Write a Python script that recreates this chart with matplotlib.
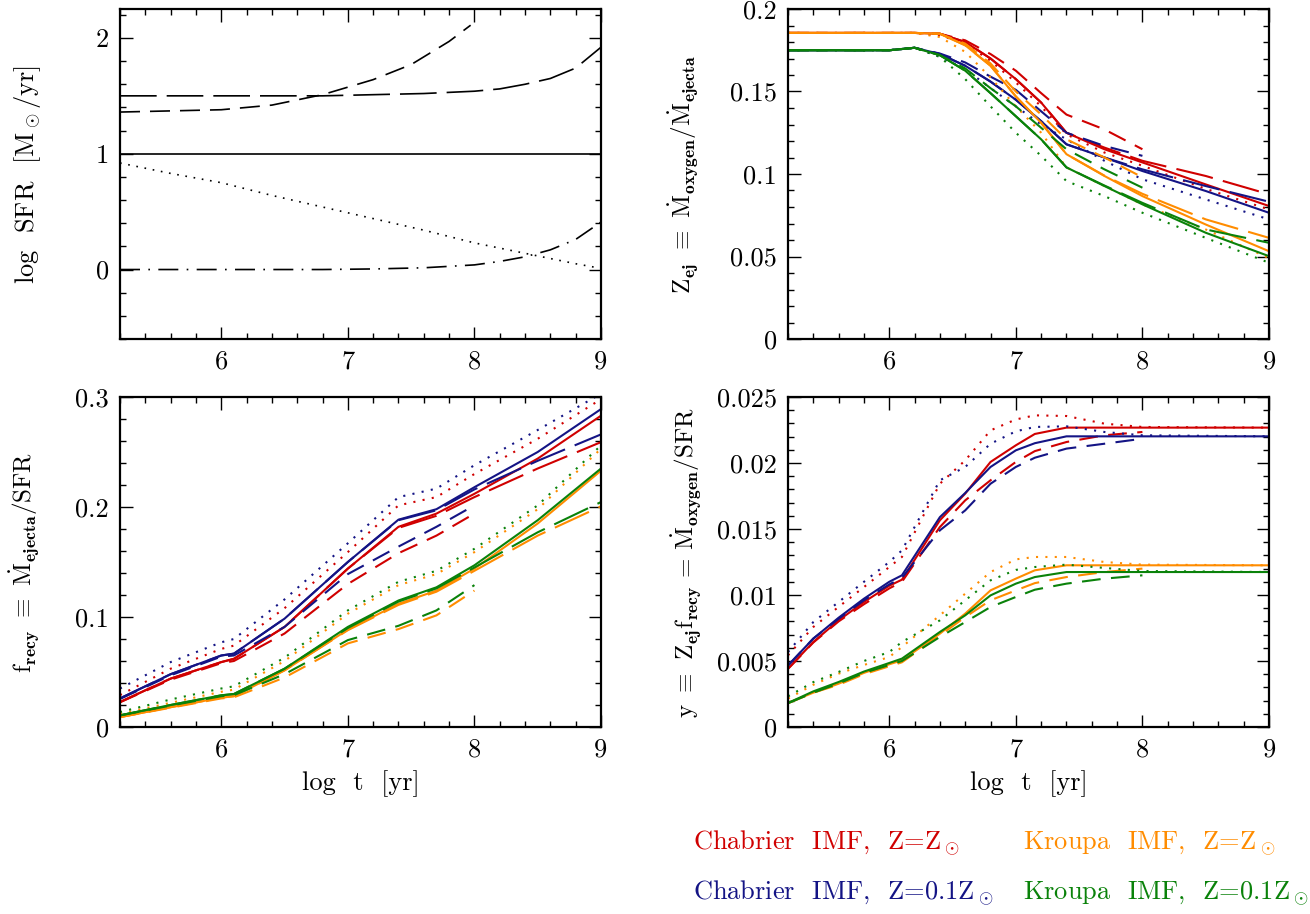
import matplotlib
matplotlib.use('Agg')
import matplotlib.pyplot as plt
from matplotlib.ticker import MultipleLocator, FuncFormatter

plt.rcParams['font.family'] = 'cmr10'
plt.rcParams['mathtext.fontset'] = 'cm'
plt.rcParams['axes.formatter.use_mathtext'] = True

RED = '#d00000'
ORANGE = '#ff8c00'
BLUE = '#141485'
GREEN = '#0a820a'

# ---- top left: star formation histories ----
t_sfr = [5.2, 5.6, 6.0, 6.4, 6.8, 7.2, 7.6, 8.0, 8.2, 8.4, 8.6, 8.8, 9.0]
sfr_const = [1.0] * 13
sfr_decl = [0.92, 0.83, 0.75, 0.64, 0.54, 0.44, 0.34, 0.23, 0.185, 0.14, 0.095, 0.05, 0.01]
sfr_long = [1.50, 1.50, 1.50, 1.50, 1.50, 1.51, 1.52, 1.54, 1.56, 1.60, 1.65, 1.74, 1.92]
sfr_dotdash = [0.0, 0.0, 0.0, 0.0, 0.0, 0.005, 0.015, 0.04, 0.07, 0.11, 0.17, 0.26, 0.41]
t_burst = [5.2, 5.6, 6.0, 6.4, 6.8, 7.2, 7.5, 7.8, 7.97]
sfr_burst = [1.36, 1.37, 1.38, 1.42, 1.51, 1.64, 1.77, 1.97, 2.11]

# ---- top right: Z_ej ----
t_zej = [5.2, 6.0, 6.2, 6.4, 6.6, 6.8, 7.0, 7.2, 7.4, 7.7, 8.0, 8.5, 9.0]
zej = {
    'chab_sol': {
        'solid': [0.1855, 0.1855, 0.1855, 0.185, 0.180, 0.170, 0.1575, 0.1433, 0.125, 0.115, 0.107, 0.0937, 0.0806],
        'dot': [0.1855, 0.1855, 0.1855, 0.184, 0.179, 0.1686, 0.1555, 0.141, 0.124, 0.113, 0.105, 0.091, 0.0785],
        'short': [0.1855, 0.1855, 0.1855, 0.185, 0.181, 0.1727, 0.1626, 0.149, 0.136, 0.127, 0.115],
        'long': [0.1855, 0.1855, 0.1855, 0.185, 0.180, 0.170, 0.1575, 0.1433, 0.125, 0.116, 0.108, 0.0988, 0.0877],
    },
    'chab_low': {
        'solid': [0.175, 0.175, 0.1765, 0.1727, 0.1656, 0.156, 0.145, 0.132, 0.118, 0.110, 0.1018, 0.0897, 0.0765],
        'dot': [0.175, 0.175, 0.1765, 0.171, 0.1636, 0.152, 0.141, 0.130, 0.121, 0.108, 0.0968, 0.0846, 0.0725],
        'short': [0.175, 0.175, 0.1765, 0.173, 0.1676, 0.159, 0.151, 0.138, 0.125, 0.117, 0.111],
        'long': [0.175, 0.175, 0.1765, 0.1727, 0.1656, 0.156, 0.145, 0.132, 0.118, 0.110, 0.1028, 0.0927, 0.0832],
    },
    'krou_sol': {
        'solid': [0.1855, 0.1855, 0.1855, 0.185, 0.178, 0.1656, 0.147, 0.131, 0.112, 0.0988, 0.0866, 0.0694, 0.0532],
        'dot': [0.1855, 0.1855, 0.1855, 0.183, 0.174, 0.1585, 0.141, 0.125, 0.104, 0.0927, 0.0816, 0.0664, 0.049],
        'short': [0.1855, 0.1855, 0.1855, 0.185, 0.179, 0.167, 0.150, 0.136, 0.121, 0.110, 0.098],
        'long': [0.1855, 0.1855, 0.1855, 0.185, 0.178, 0.1656, 0.147, 0.131, 0.112, 0.099, 0.088, 0.0725, 0.0613],
    },
    'krou_low': {
        'solid': [0.175, 0.175, 0.1765, 0.172, 0.1626, 0.149, 0.135, 0.121, 0.104, 0.0927, 0.0816, 0.0644, 0.0502],
        'dot': [0.175, 0.175, 0.1765, 0.171, 0.1575, 0.141, 0.125, 0.111, 0.0957, 0.0866, 0.0765, 0.0613, 0.0462],
        'short': [0.175, 0.175, 0.1765, 0.172, 0.164, 0.152, 0.141, 0.128, 0.115, 0.1028, 0.0917],
        'long': [0.175, 0.175, 0.1765, 0.172, 0.1626, 0.149, 0.135, 0.121, 0.104, 0.093, 0.0825, 0.0664, 0.0583],
    },
}

# ---- bottom left: f_recy ----
t_f = [5.2, 5.6, 6.0, 6.1, 6.5, 7.0, 7.4, 7.7, 8.0, 8.5, 9.0]
frecy = {
    'chab_sol': {
        'solid': [0.0227, 0.044, 0.059, 0.062, 0.091, 0.144, 0.182, 0.194, 0.212, 0.244, 0.283],
        'dot': [0.029, 0.053, 0.071, 0.074, 0.108, 0.159, 0.2015, 0.209, 0.230, 0.262, 0.298],
        'short': [0.0225, 0.043, 0.058, 0.060, 0.085, 0.130, 0.158, 0.174, 0.194],
        'long': [0.0227, 0.044, 0.059, 0.062, 0.091, 0.144, 0.181, 0.192, 0.209, 0.235, 0.259],
    },
    'chab_low': {
        'solid': [0.026, 0.048, 0.065, 0.0667, 0.0985, 0.150, 0.1885, 0.198, 0.218, 0.250, 0.289],
        'dot': [0.035, 0.059, 0.077, 0.080, 0.116, 0.167, 0.209, 0.2167, 0.238, 0.270, 0.303],
        'short': [0.0255, 0.047, 0.064, 0.065, 0.091, 0.139, 0.164, 0.182, 0.2015],
        'long': [0.026, 0.048, 0.065, 0.0667, 0.0985, 0.150, 0.188, 0.197, 0.216, 0.242, 0.266],
    },
    'krou_sol': {
        'solid': [0.009, 0.018, 0.0267, 0.028, 0.0515, 0.0885, 0.112, 0.124, 0.144, 0.185, 0.233],
        'dot': [0.012, 0.022, 0.032, 0.034, 0.060, 0.103, 0.129, 0.139, 0.159, 0.198, 0.253],
        'short': [0.009, 0.0175, 0.026, 0.027, 0.045, 0.076, 0.089, 0.1015, 0.124],
        'long': [0.009, 0.018, 0.0267, 0.028, 0.0515, 0.088, 0.111, 0.123, 0.142, 0.174, 0.2006],
    },
    'krou_low': {
        'solid': [0.0106, 0.020, 0.0288, 0.030, 0.053, 0.091, 0.115, 0.127, 0.147, 0.188, 0.235],
        'dot': [0.0136, 0.025, 0.035, 0.037, 0.063, 0.106, 0.132, 0.142, 0.162, 0.2015, 0.256],
        'short': [0.0105, 0.0195, 0.028, 0.029, 0.048, 0.079, 0.092, 0.106, 0.129],
        'long': [0.0106, 0.020, 0.0288, 0.030, 0.053, 0.090, 0.114, 0.126, 0.145, 0.177, 0.2045],
    },
}

# ---- bottom right: yield ----
t_y = [5.2, 5.4, 5.6, 5.8, 6.0, 6.1, 6.4, 6.6, 6.8, 7.0, 7.15, 7.4, 7.7, 8.0, 9.0]
yld = {
    'chab_sol': {
        'solid': [0.00442, 0.00644, 0.00808, 0.00947, 0.0107, 0.01116, 0.01566, 0.01768, 0.02008, 0.02134, 0.0222, 0.02268, 0.02268, 0.02268, 0.02268],
        'dot': [0.00543, 0.00758, 0.0091, 0.0106, 0.01212, 0.01288, 0.01843, 0.0202, 0.02247, 0.0233, 0.02361, 0.02356, 0.02298, 0.02273, 0.02268],
        'short': [0.0044, 0.0064, 0.0080, 0.0093, 0.0105, 0.0110, 0.01515, 0.01717, 0.01869, 0.02008, 0.0209, 0.02159, 0.0221, 0.02235],
    },
    'chab_low': {
        'solid': [0.00467, 0.0067, 0.00828, 0.00972, 0.011, 0.01149, 0.0159, 0.01773, 0.0197, 0.02096, 0.0215, 0.02202, 0.02202, 0.02202, 0.02202],
        'dot': [0.00568, 0.00795, 0.00947, 0.011, 0.0125, 0.01338, 0.01869, 0.0197, 0.02146, 0.0224, 0.02273, 0.02278, 0.02235, 0.0221, 0.02202],
        'short': [0.00465, 0.0067, 0.0082, 0.0096, 0.0108, 0.0113, 0.0149, 0.01641, 0.01843, 0.0197, 0.0204, 0.02109, 0.02146, 0.02184],
    },
    'krou_sol': {
        'solid': [0.00182, 0.0026, 0.00328, 0.0041, 0.00475, 0.00505, 0.00707, 0.00859, 0.01035, 0.01124, 0.01187, 0.01225, 0.01225, 0.01225, 0.01225],
        'dot': [0.00215, 0.0032, 0.00404, 0.0047, 0.0053, 0.00606, 0.00846, 0.0101, 0.01174, 0.0127, 0.01288, 0.01288, 0.0125, 0.0123, 0.01225],
        'short': [0.0018, 0.0026, 0.0032, 0.0040, 0.0046, 0.0049, 0.00694, 0.00833, 0.0096, 0.01035, 0.0109, 0.01136, 0.01174, 0.0120],
    },
    'krou_low': {
        'solid': [0.00182, 0.0027, 0.00341, 0.0042, 0.00485, 0.00518, 0.0072, 0.00846, 0.00997, 0.01086, 0.01136, 0.01174, 0.01174, 0.01174, 0.01174],
        'dot': [0.00232, 0.0034, 0.00417, 0.0050, 0.00568, 0.00644, 0.00808, 0.0096, 0.01111, 0.0119, 0.01212, 0.0123, 0.01205, 0.01182, 0.01174],
        'short': [0.0018, 0.0026, 0.0033, 0.0041, 0.0047, 0.0050, 0.00682, 0.00795, 0.00909, 0.00985, 0.0104, 0.01086, 0.01124, 0.01149],
    },
}

models = ['chab_sol', 'chab_low', 'krou_sol', 'krou_low']
colors = {'chab_sol': RED, 'chab_low': BLUE, 'krou_sol': ORANGE, 'krou_low': GREEN}
styles = {
    'solid': '-',
    'dot': (0, (1, 3.5)),
    'short': (0, (9, 5)),
    'long': (0, (18, 5)),
}
legend_labels = [
    ('chab_sol', r'Chabrier  IMF,  Z=Z$_\odot$'),
    ('krou_sol', r'Kroupa  IMF,  Z=Z$_\odot$'),
    ('chab_low', r'Chabrier  IMF,  Z=0.1Z$_\odot$'),
    ('krou_low', r'Kroupa  IMF,  Z=0.1Z$_\odot$'),
]


def fmt(v, pos):
    return '%g' % round(v, 6)


def style_axes(ax, ylim, ymaj, ymin):
    ax.set_xlim(5.2, 9.0)
    ax.set_ylim(*ylim)
    ax.xaxis.set_major_locator(MultipleLocator(1))
    ax.xaxis.set_minor_locator(MultipleLocator(0.2))
    ax.yaxis.set_major_locator(MultipleLocator(ymaj))
    ax.yaxis.set_minor_locator(MultipleLocator(ymin))
    ax.xaxis.set_major_formatter(FuncFormatter(fmt))
    ax.yaxis.set_major_formatter(FuncFormatter(fmt))
    ax.tick_params(which='both', direction='in', top=True, right=True, width=1.0, labelsize=19)
    ax.tick_params(which='major', length=9, pad=8)
    ax.tick_params(which='minor', length=4.5)
    for s in ax.spines.values():
        s.set_linewidth(1.6)


def draw_model_panel(ax, t, data):
    for m in models:
        for key, vals in data[m].items():
            ax.plot(t[:len(vals)], vals, color=colors[m], ls=styles[key], lw=1.5)


fig = plt.figure(figsize=(13.1, 9.14), dpi=100)
W = 481 / 1310
H = 330 / 914
ax1 = fig.add_axes([120 / 1310, 1 - 339 / 914, W, H])
ax2 = fig.add_axes([788 / 1310, 1 - 339 / 914, W, H])
ax3 = fig.add_axes([120 / 1310, 1 - 727 / 914, W, H])
ax4 = fig.add_axes([788 / 1310, 1 - 727 / 914, W, H])

k = dict(color='black', lw=1.2)
ax1.plot(t_sfr, sfr_const, ls='-', **k)
ax1.plot(t_sfr, sfr_decl, ls=(0, (1, 4)), **k)
ax1.plot(t_sfr, sfr_long, ls=(0, (22, 6)), **k)
ax1.plot(t_sfr, sfr_dotdash, ls=(0, (12, 5, 1, 5)), **k)
ax1.plot(t_burst, sfr_burst, ls=(0, (12, 6)), **k)
style_axes(ax1, (-0.6, 2.25), 1, 0.2)

draw_model_panel(ax2, t_zej, zej)
style_axes(ax2, (0, 0.2), 0.05, 0.01)

draw_model_panel(ax3, t_f, frecy)
style_axes(ax3, (0, 0.3), 0.1, 0.02)

draw_model_panel(ax4, t_y, yld)
style_axes(ax4, (0, 0.025), 0.005, 0.001)

for ax in (ax3, ax4):
    ax.set_xlabel('log  t  [yr]', fontsize=19, labelpad=6)

lab = dict(rotation=90, ha='center', va='center', fontsize=19)
fig.text(28 / 1310, 1 - 175 / 914, r'log  SFR  [M$_\odot$/yr]', **lab)
fig.text(683 / 1310, 1 - 174 / 914,
         r'Z$_{\mathbf{ej}}$ $\equiv$ $\dot{\mathrm{M}}_{\mathbf{oxygen}}/\dot{\mathrm{M}}_{\mathbf{ejecta}}$',
         rotation=90, ha='center', va='center', fontsize=18)
fig.text(24 / 1310, 1 - 562 / 914,
         r'f$_{\mathbf{recy}}$ $\equiv$ $\dot{\mathrm{M}}_{\mathbf{ejecta}}$/SFR',
         rotation=90, ha='center', va='center', fontsize=18)
fig.text(686 / 1310, 1 - 563 / 914,
         r'y $\equiv$ Z$_{\mathbf{ej}}$f$_{\mathbf{recy}}$ = $\dot{\mathrm{M}}_{\mathbf{oxygen}}$/SFR',
         rotation=90, ha='center', va='center', fontsize=18)

pos = {'chab_sol': (693, 850), 'krou_sol': (1023, 850), 'chab_low': (693, 900), 'krou_low': (1023, 900)}
for m, txt in legend_labels:
    x, y = pos[m]
    fig.text(x / 1310, 1 - y / 914, txt, color=colors[m], fontsize=19, ha='left', va='baseline')

fig.savefig('out.png', dpi=100)
